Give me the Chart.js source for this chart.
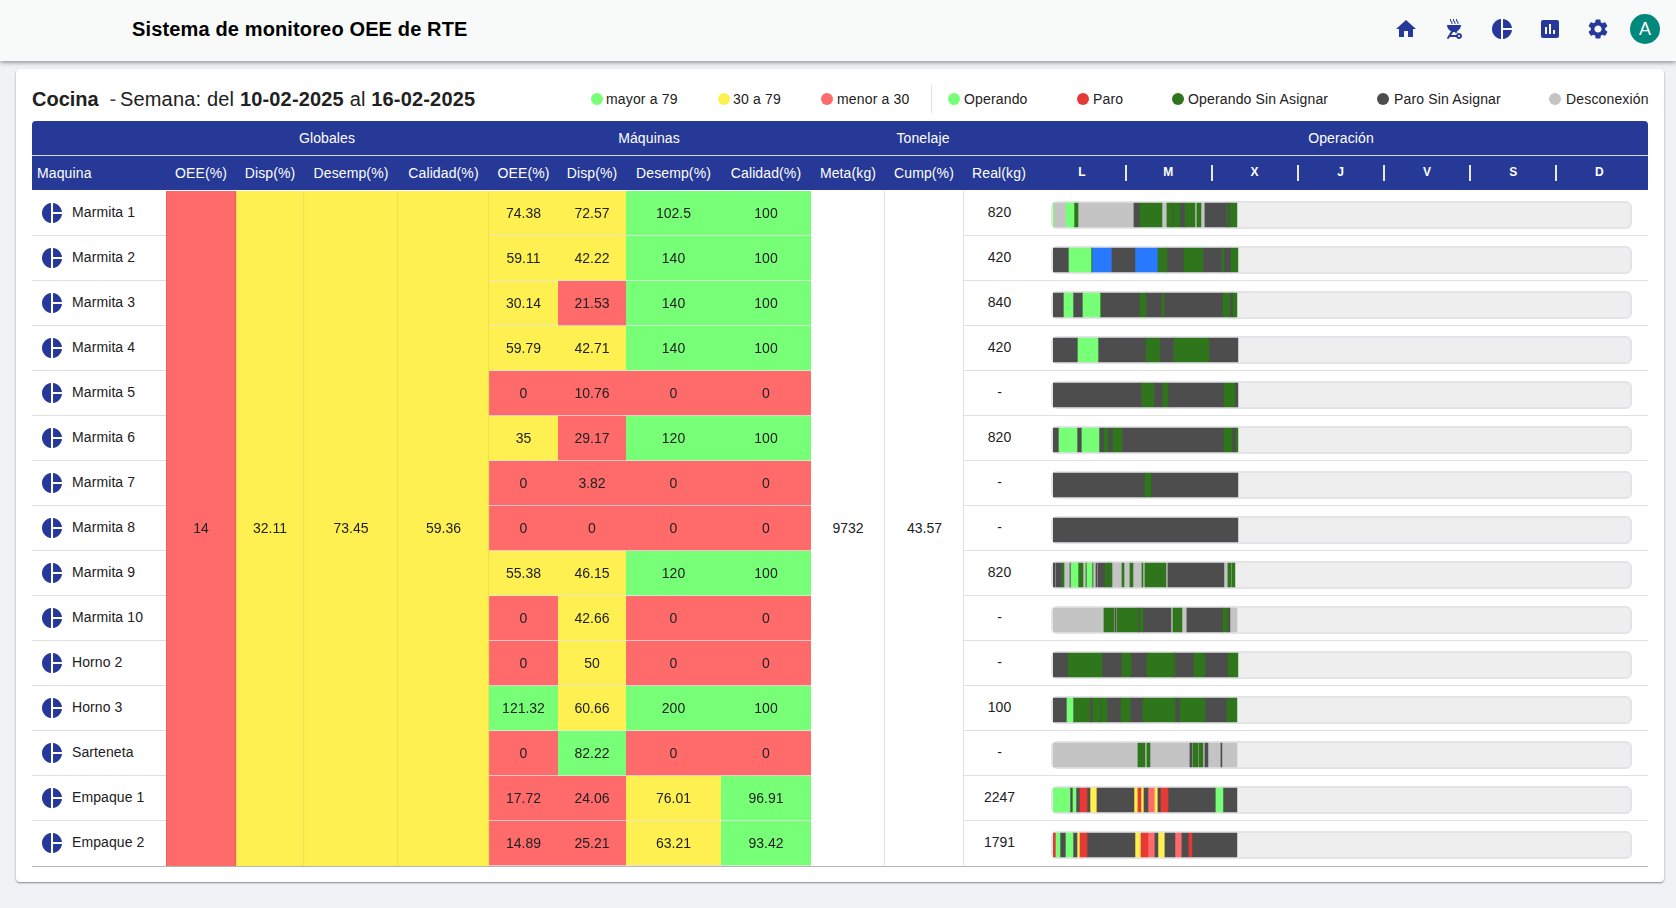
<!DOCTYPE html>
<html lang="es">
<head>
<meta charset="utf-8">
<title>Sistema de monitoreo OEE de RTE</title>
<script src="https://cdn.jsdelivr.net/npm/chart.js@4"></script>
<style>
  html, body { margin: 0; padding: 0; }
  body { width: 1676px; height: 908px; background: #f0f2f5; font-family: "Liberation Sans", Arial, sans-serif; color: #212121; overflow: hidden; position: relative; }
  .abs { position: absolute; }
  #nav { left: 0; top: 0; width: 1676px; height: 61px; background: #f8faf9; box-shadow: 0 2px 4px rgba(0,0,0,.35); }
  #nav h1 { position: absolute; left: 132px; top: 17px; margin: 0; font-size: 20px; line-height: 24px; font-weight: bold; color: #000; letter-spacing: .14px; }
  #nav svg { position: absolute; top: 17px; width: 24px; height: 24px; fill: #26399a; }
  #avatar { left: 1630px; top: 14px; width: 30px; height: 30px; border-radius: 50%; background: #00897b; color: #fff; font-size: 18px; line-height: 30px; text-align: center; }
  #card { left: 16px; top: 69px; width: 1648px; height: 813px; background: #fff; border-radius: 4px; box-shadow: 0 1px 2px rgba(0,0,0,.45); }
  #titulo { left: 32px; top: 86px; font-size: 20px; line-height: 26px; white-space: nowrap; letter-spacing: .17px; }
  #titulo .k { letter-spacing: 0; }
  #titulo .g { margin-left: 5px; margin-right: -2px; color: #444; }
  .ley { top: 91px; font-size: 14px; line-height: 16px; white-space: nowrap; letter-spacing: .16px; }
  .dot { position: absolute; top: 93px; width: 12px; height: 12px; border-radius: 50%; }
  #sepLey { left: 931px; top: 85px; width: 1px; height: 28px; background: #e0e0e0; }
  #cab { left: 32px; top: 121px; width: 1616px; height: 69px; background: #263996; border-radius: 4px 4px 0 0; color: #fff; font-size: 14px; letter-spacing: .12px; }
  #cab div { position: absolute; line-height: 16px; white-space: nowrap; }
  #cab .c { transform: translateX(-50%); }
  #cab .d { font-size: 12px; font-weight: bold; }
  #cab .s { width: 1.5px; height: 16px; top: 44px; background: #e8e8e8; }
  #cab .l { left: 0; top: 34px; width: 1616px; height: 1px; background: #d5d9ec; }
  .fila { position: absolute; height: 1px; background: #e0e0e0; }
  .maq { position: absolute; left: 72px; font-size: 14px; line-height: 16px; letter-spacing: .1px; }
  .ico { position: absolute; left: 42px; width: 20px; height: 20px; fill: #26399a; }
  .val { position: absolute; font-size: 14px; line-height: 16px; transform: translateX(-50%); }
  .pista { position: absolute; left: 1051px; width: 577px; height: 24px; background: #eee; border: 2px solid #e3e3e8; border-radius: 6px; }
  canvas { position: absolute; }
</style>
</head>
<body>
<div id="nav" class="abs">
  <h1>Sistema de monitoreo OEE de RTE</h1>
  <svg style="left:1394px" viewBox="0 0 24 24"><path d="M10 20v-6h4v6h5v-8h3L12 3 2 12h3v8z"/></svg>
  <svg style="left:1442px" viewBox="0 0 24 24"><path d="M17 22c1.66 0 3-1.34 3-3s-1.34-3-3-3c-1.3 0-2.4.84-2.82 2H9.14l1.99-3.06c.28.04.56.06.87.06s.59-.02.87-.06l1.02 1.57c.42-.53.96-.95 1.6-1.21l-.6-.93C17.31 13.27 19 10.84 19 8H5c0 2.84 1.69 5.27 4.12 6.37l-3.95 6.08c-.3.46-.17 1.08.29 1.38.46.3 1.08.17 1.38-.29l1-1.55h6.34C14.6 21.16 15.7 22 17 22zm0-4c.55 0 1 .45 1 1s-.45 1-1 1-1-.45-1-1 .45-1 1-1z"/><path d="M9.41 7h1c.15-1.15.23-1.64-.89-2.96-.42-.5-.68-.78-.46-2.04h-.99c-.21 1.36.1 2.14.74 2.87.24.27 1.02.77.6 2.13zm2.99 0h1c.15-1.15.23-1.64-.89-2.96-.42-.5-.68-.78-.46-2.04h-.99c-.21 1.36.1 2.14.74 2.87.24.27 1.02.77.6 2.13zm3.01 0h1c.15-1.15.23-1.64-.89-2.96-.42-.5-.68-.78-.46-2.04h-.99c-.21 1.36.1 2.14.74 2.87.24.27 1.02.77.6 2.13z"/></svg>
  <svg style="left:1490px" viewBox="0 0 24 24"><path d="M11 2v20c-5.07-.5-9-4.79-9-10s3.93-9.5 9-10zm2.03 0v8.99H22c-.47-4.74-4.24-8.52-8.97-8.99zm0 11.01V22c4.74-.47 8.5-4.25 8.97-8.99h-8.97z"/></svg>
  <svg style="left:1538px" viewBox="0 0 24 24"><path d="M19 3H5c-1.1 0-2 .9-2 2v14c0 1.1.9 2 2 2h14c1.1 0 2-.9 2-2V5c0-1.1-.9-2-2-2zM9 17H7v-7h2v7zm4 0h-2V7h2v10zm4 0h-2v-4h2v4z"/></svg>
  <svg style="left:1586px" viewBox="0 0 24 24"><path d="M19.14 12.94c.04-.3.06-.61.06-.94 0-.32-.02-.64-.07-.94l2.03-1.58c.18-.14.23-.41.12-.61l-1.92-3.32c-.12-.22-.37-.29-.59-.22l-2.39.96c-.5-.38-1.03-.7-1.62-.94l-.36-2.54c-.04-.24-.24-.41-.48-.41h-3.84c-.24 0-.43.17-.47.41l-.36 2.54c-.59.24-1.13.57-1.62.94l-2.39-.96c-.22-.08-.47 0-.59.22L2.74 8.87c-.12.21-.08.47.12.61l2.03 1.58c-.05.3-.09.63-.09.94s.02.64.07.94l-2.03 1.58c-.18.14-.23.41-.12.61l1.92 3.32c.12.22.37.29.59.22l2.39-.96c.5.38 1.03.7 1.62.94l.36 2.54c.05.24.24.41.48.41h3.84c.24 0 .44-.17.47-.41l.36-2.54c.59-.24 1.13-.56 1.62-.94l2.39.96c.22.08.47 0 .59-.22l1.92-3.32c.12-.22.07-.47-.12-.61l-2.01-1.58zM12 15.6c-1.98 0-3.6-1.62-3.6-3.6s1.62-3.6 3.6-3.6 3.6 1.62 3.6 3.6-1.62 3.6-3.6 3.6z"/></svg>
  <div id="avatar" class="abs">A</div>
</div>
<div id="card" class="abs"></div>
<div id="titulo" class="abs"><b class="k">Cocina</b>&nbsp;<span class="g">- </span>Semana: del <b>10-02-2025</b> al <b>16-02-2025</b></div>
<div id="sepLey" class="abs"></div>
<div id="cab" class="abs"><div class="l"></div></div>
<div id="cuerpo"></div>
<canvas id="heat" style="left:166px;top:191px"></canvas>
<canvas id="oper" style="left:1053px;top:192px"></canvas>

<script>
const maquinas = ['Marmita 1','Marmita 2','Marmita 3','Marmita 4','Marmita 5','Marmita 6','Marmita 7','Marmita 8','Marmita 9','Marmita 10','Horno 2','Horno 3','Sarteneta','Empaque 1','Empaque 2'];
const globales = [14, 32.11, 73.45, 59.36];
const oeeMaq = [74.38,59.11,30.14,59.79,0,35,0,0,55.38,0,0,121.32,0,17.72,14.89];
const dispMaq = [72.57,42.22,21.53,42.71,10.76,29.17,3.82,0,46.15,42.66,50,60.66,82.22,24.06,25.21];
const desempMaq = [102.5,140,140,140,0,120,0,0,120,0,0,200,0,76.01,63.21];
const calidadMaq = [100,100,100,100,0,100,0,0,100,0,0,100,0,96.91,93.42];
const realKg = ['820','420','840','420','-','820','-','-','820','-','-','100','-','2247','1791'];
const metaKg = 9732;
const cumpPct = 43.57;
const colsGlobales = ['OEE(%)','Disp(%)','Desemp(%)','Calidad(%)'];
const colsMaquinas = ['OEE(%)','Disp(%)','Desemp(%)','Calidad(%)'];
const dias = ['L','M','X','J','V','S','D'];

// O operando, P paro, A operando sin asignar, S paro sin asignar, D desconexion, B azul, Y amarillo, R rojo claro
const opEstados = [
  'O D O A D S A D A S A S A D A D S A S A',
  'S O A B S B A S A S A S A',
  'S O S O A S A S A S A S A',
  'S O S A S A S',
  'S A S A S A S',
  'S O S O S A S A S A S A',
  'S A S',
  'S',
  'S D S A D S O A D A O A D S D S A S A D A D A D A D A D S D A D A',
  'D A D S D A S A S D A D S A S D',
  'S A S A S A S A S A S A',
  'S O S A S A S A S A S A S A S A',
  'D A D A D S D A D A D S D S D',
  'O S O S P S Y S Y P Y S R Y S P S O S',
  'P O S O S Y P S Y P R S Y S R S P S'
];
// horas de cada tramo, en el mismo orden
const opHoras = [
  [.29,3.48,2.32,1.16,16.24,1.74,6.38,1.45,1.45,.29,2.03,1.45,2.9,.58,1.16,1.16,6.38,.29,.58,2.03],
  [4.64,6.38,.29,5.8,6.67,6.67,2.61,4.93,5.51,5.51,.58,2.03,2.03],
  [3.19,2.61,2.9,4.93,.29,11.31,1.74,4.64,.58,17.11,2.03,.87,1.16],
  [7.25,5.8,13.92,4.06,4.06,10.15,8.41],
  [25.81,3.48,2.61,1.45,16.24,3.19,.87],
  [1.74,5.22,1.45,4.93,1.45,1.16,1.45,2.61,29.58,2.32,1.16,.58],
  [26.68,1.74,25.23],
  [53.65],
  [.58,.29,1.74,.58,1.74,.29,2.03,1.45,.87,.29,1.45,.29,.87,.29,.29,2.03,.87,.29,.87,2.9,.58,1.74,.87,2.61,.29,.58,6.09,.58,16.24,1.16,.87,.29,.87],
  [14.79,2.9,.29,.29,.29,6.09,.58,.87,8.12,.58,2.61,1.45,10.44,1.45,.58,2.03],
  [4.35,9.86,5.8,2.61,4.64,7.54,.29,.29,5.51,3.19,6.67,2.9],
  [4.06,1.74,.29,4.64,.87,2.03,.29,1.74,4.06,2.61,3.77,9.28,1.45,7.25,6.38,2.9],
  [24.65,2.03,.58,.87,11.6,.58,.29,1.45,.29,1.16,.58,.87,3.77,.29,4.35],
  [4.93,.87,.87,1.16,2.03,.87,2.03,10.73,1.16,.87,.87,1.16,2.03,.87,.87,2.03,13.92,2.03,4.06],
  [.87,1.16,1.74,2.03,1.16,.87,2.03,13.92,1.74,2.03,2.03,.87,2.03,2.9,2.03,2.03,.87,13.05]
];

// presentacion
const VERDE = '#78ff78', AMARILLO = '#fff051', ROJO = '#ff6b6b';
const colorEstado = { O:'#78ff78', P:'#e53935', A:'#2e751b', S:'#4d4d4d', D:'#c4c4c4', B:'#2979ff', Y:'#fff051', R:'#ff6b6b' };
const nombreEstado = { O:'Operando', P:'Paro', A:'Operando Sin Asignar', S:'Paro Sin Asignar', D:'Desconexión', B:'Otro', Y:'30 a 79', R:'menor a 30' };
const anchosCol = [70, 68, 94, 91, 69, 68, 95, 90];
const ALTO_FILA = 45;
const ALTO_TABLA = ALTO_FILA * maquinas.length;

const colorValor = v => v > 79 ? VERDE : v >= 30 ? AMARILLO : ROJO;
const bordeValor = v => v > 79 ? '#6fe06f' : v >= 30 ? '#e6da50' : '#de5a60';

const bordes = [0];
anchosCol.forEach((w, i) => bordes.push(bordes[i] + w));

// cabecera, leyenda y filas en html
function pon(padre, cls, css, txt) {
  const d = document.createElement('div');
  d.className = cls; d.style.cssText = css;
  if (txt !== undefined) d.textContent = txt;
  padre.appendChild(d);
  return d;
}

const leyenda = [
  [VERDE, 'mayor a 79', 591, 606], [AMARILLO, '30 a 79', 718, 733], [ROJO, 'menor a 30', 821, 837],
  [colorEstado.O, 'Operando', 948, 964], [colorEstado.P, 'Paro', 1077, 1093], [colorEstado.A, 'Operando Sin Asignar', 1172, 1188],
  [colorEstado.S, 'Paro Sin Asignar', 1377, 1394], [colorEstado.D, 'Desconexión', 1549, 1566]
];
leyenda.forEach(([c, t, xd, xt]) => {
  pon(document.body, 'dot', `left:${xd}px;background:${c}`);
  pon(document.body, 'ley abs', `left:${xt}px`, t);
});

const cab = document.getElementById('cab');
[['Globales', 295], ['Máquinas', 617], ['Tonelaje', 891], ['Operación', 1309]].forEach(([t, x]) => pon(cab, 'c', `left:${x}px;top:9px`, t));
pon(cab, '', 'left:5px;top:44px', 'Maquina');
colsGlobales.concat(colsMaquinas).forEach((t, i) => pon(cab, 'c', `left:${134 + (bordes[i] + bordes[i + 1]) / 2}px;top:44px`, t));
[['Meta(kg)', 816], ['Cump(%)', 892], ['Real(kg)', 967]].forEach(([t, x]) => pon(cab, 'c', `left:${x}px;top:44px`, t));
dias.forEach((t, i) => {
  pon(cab, 'c d', `left:${1050 + i * 86.25}px;top:43px`, t);
  if (i) pon(cab, 's', `left:${Math.round(1006.5 + i * 86.15)}px`);
});

const cuerpo = document.getElementById('cuerpo');
maquinas.forEach((m, i) => {
  const top = 190 + i * ALTO_FILA, medio = top + ALTO_FILA / 2;
  const yTexto = Math.floor(medio - 8);
  cuerpo.insertAdjacentHTML('beforeend', `<svg class="ico" style="top:${medio - 10}px" viewBox="2 2 20 20"><path d="M11 2v20c-5.07-.5-9-4.79-9-10s3.93-9.5 9-10zm2.03 0v8.99H22c-.47-4.74-4.24-8.52-8.97-8.99zm0 11.01V22c4.74-.47 8.5-4.25 8.97-8.99h-8.97z"/></svg>`);
  pon(cuerpo, 'maq', `top:${yTexto}px`, m);
  pon(cuerpo, 'val', `left:999.5px;top:${yTexto}px`, realKg[i]);
  pon(cuerpo, 'pista', `top:${top + 11}px`);
  if (i < maquinas.length - 1) {
    pon(cuerpo, 'fila', `left:32px;width:134px;top:${top + ALTO_FILA}px`);
    pon(cuerpo, 'fila', `left:964px;width:684px;top:${top + ALTO_FILA}px`);
  }
});
const medioTabla = 190 + ALTO_TABLA / 2;
pon(cuerpo, 'val', `left:848px;top:${medioTabla - 8}px`, metaKg);
pon(cuerpo, 'val', `left:924.5px;top:${medioTabla - 8}px`, cumpPct);
pon(cuerpo, 'fila', 'left:884px;width:1px;top:190px;height:676px');
pon(cuerpo, 'fila', 'left:963px;width:1px;top:190px;height:676px');
pon(cuerpo, 'fila', 'left:32px;width:1616px;top:866px;background:#b5b5b5');

// celdas de colores: barras flotantes, una columna por dataset
const columnasMaq = [oeeMaq, dispMaq, desempMaq, calidadMaq];
const dsGlobales = globales.map((v, i) => ({
  label: 'Global ' + colsGlobales[i],
  data: maquinas.map(() => [bordes[i], bordes[i + 1]]),
  backgroundColor: colorValor(v),
  borderColor: bordeValor(v),
  borderWidth: i === 0 ? { left: 1, right: 1 } : { right: 1 },
  borderSkipped: false,
  valores: maquinas.map((m, k) => k === 7 ? v : null)
}));
const dsMaquinas = columnasMaq.map((col, i) => ({
  label: 'Máquina ' + colsMaquinas[i],
  data: col.map(() => [bordes[i + 4], bordes[i + 5]]),
  backgroundColor: col.map(colorValor),
  borderColor: '#e6e6e6',
  borderWidth: { bottom: 1 },
  borderSkipped: false,
  valores: col
}));

// texto de cada celda, centrado sobre la barra
const textoCeldas = {
  id: 'textoCeldas',
  afterDatasetsDraw(chart) {
    const ctx = chart.ctx;
    ctx.save();
    ctx.font = '14px "Liberation Sans", Arial, sans-serif';
    ctx.fillStyle = '#212121';
    ctx.textAlign = 'center';
    ctx.textBaseline = 'middle';
    chart.data.datasets.forEach((ds, d) => {
      chart.getDatasetMeta(d).data.forEach((bar, k) => {
        const v = ds.valores[k];
        if (v === null) return;
        ctx.fillText(String(v), (bar.x + bar.base) / 2, bar.y + 0.5);
      });
    });
    ctx.restore();
  }
};

const opcionesEjes = (xMax, relleno) => ({
  indexAxis: 'y',
  responsive: false,
  animation: false,
  events: [],
  layout: { padding: relleno },
  plugins: { legend: { display: false }, tooltip: { enabled: false } },
  scales: {
    x: { type: 'linear', display: false, min: 0, max: xMax },
    y: { type: 'category', display: false, grid: { display: false } }
  }
});

function tamano(id, w, h) {
  const c = document.getElementById(id);
  c.width = w; c.height = h;
  c.style.width = w + 'px'; c.style.height = h + 'px';
  return c;
}

new Chart(tamano('heat', bordes[8], ALTO_TABLA), {
  type: 'bar',
  data: { labels: maquinas, datasets: dsGlobales.concat(dsMaquinas) },
  options: Object.assign(opcionesEjes(bordes[8], 0), {
    datasets: { bar: { grouped: false, barPercentage: 1, categoryPercentage: 1 } }
  }),
  plugins: [textoCeldas]
});

// linea de operacion: tramos flotantes agrupados por estado
const dsOper = Object.keys(colorEstado).map(e => {
  const puntos = [];
  opEstados.forEach((fila, i) => {
    let t = 0;
    fila.split(' ').forEach((est, k) => {
      if (est === e) puntos.push({ x: [t, t + opHoras[i][k]], y: maquinas[i] });
      t += opHoras[i][k];
    });
  });
  return { label: nombreEstado[e], data: puntos, backgroundColor: colorEstado[e] };
});

new Chart(tamano('oper', 579, ALTO_TABLA + 1), {
  type: 'bar',
  data: { labels: maquinas, datasets: dsOper },
  options: Object.assign(opcionesEjes(168, { top: .5, bottom: .5, left: 0, right: 0 }), {
    datasets: { bar: { grouped: false, barThickness: 24 } }
  })
});
</script>
</body>
</html>
